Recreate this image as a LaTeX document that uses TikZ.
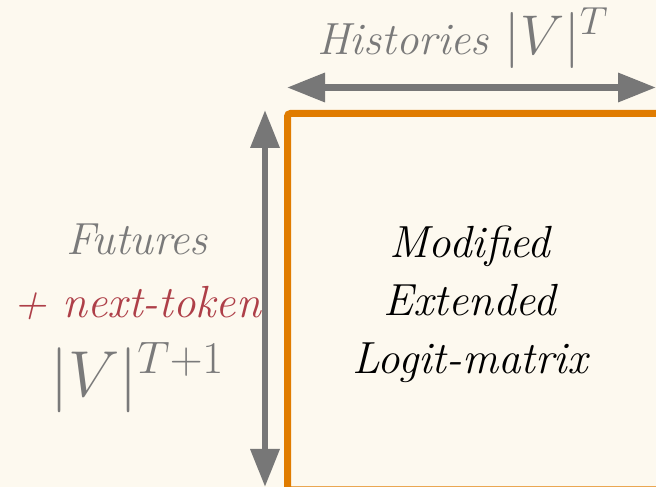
\RequirePackage{fix-cm}
\documentclass[tikz,border=0pt]{standalone}
\usepackage{xcolor}
\usepackage{tikz}
\usepackage{amsmath}
\usetikzlibrary{arrows.meta, positioning}
\definecolor{paper}{HTML}{FDF9EF}
\definecolor{frame}{HTML}{E07C00}
\definecolor{axisgray}{HTML}{777777}
\definecolor{labelgray}{HTML}{7A7A7A}
\definecolor{accent}{HTML}{AE3F48}

\begin{document}
\begin{tikzpicture}[x=1pt, y=1pt,
  dimlbl/.style={font=\fontsize{45}{58}\selectfont\itshape, text=labelgray, inner sep=0pt, anchor=base},
  cell/.style={font=\fontsize{45}{58}\selectfont\itshape, text=black, align=center, inner sep=0pt},
  dimarr/.style={{Triangle[length=38pt, width=28pt]}-{Triangle[length=38pt, width=28pt]}, line width=6.5pt, color=axisgray},
  box/.style={draw=frame, line width=7pt, rounded corners=3pt, inner sep=0pt},
]
\fill[paper] (0,0) rectangle (656,487);
\useasboundingbox (0,0) rectangle (656,487);

% matrix frame, runs past the right and bottom edges
\node[box, anchor=north west, minimum width=436pt, minimum height=376.5pt] (logits) at (284,377) {};
\node[cell] (lbl) at (470,183) {Modified\\Extended\\Logit-matrix};

% dimension arrows
\coordinate (h-west) at (287,399.5);
\coordinate (h-east) at (656,399.5);
\coordinate (v-north) at (265,377);
\coordinate (v-south) at (265,0);
\draw[dimarr] (h-west) -- (h-east);
\draw[dimarr] (v-north) -- (v-south);

\node[dimlbl, anchor=base west] (hist) at (317,432) {Histories {\fontsize{56}{60}\selectfont$|V|^{T}$}};
\node[dimlbl] (fut) at (137,232) {Futures};
\node[dimlbl, text=accent] (nxt) at (137,169) {+ next-token};
\node[dimlbl, font=\fontsize{65}{70}\selectfont] (vsz) at (137,90) {$|V|^{T+1}$};
\end{tikzpicture}
\end{document}
